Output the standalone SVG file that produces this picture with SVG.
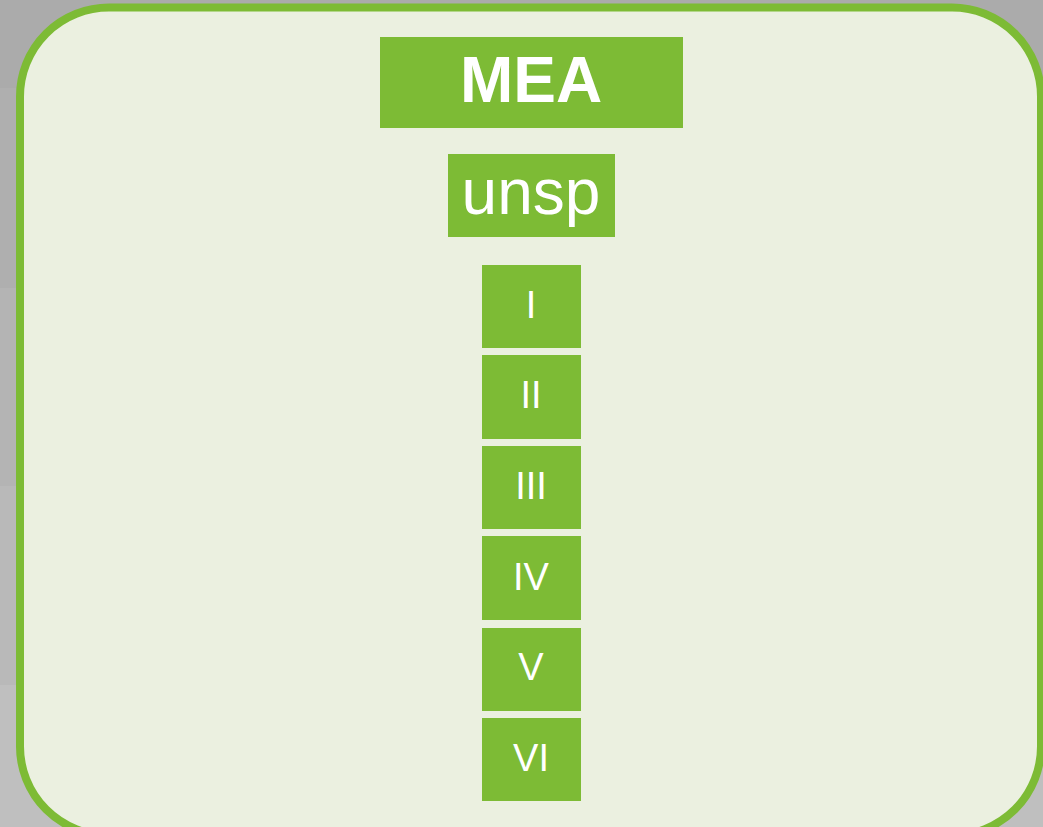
<svg xmlns="http://www.w3.org/2000/svg" width="1043" height="827" viewBox="0 0 1043 827">
<style>
.box{fill:#7dbb35}
.t{fill:#ffffff;font-family:"Liberation Sans",Arial,sans-serif;text-anchor:middle}
.num{font-size:38px}
</style>
<g id="background">
<rect x="0" y="0" width="1043" height="88" fill="#ababab"/>
<rect x="0" y="88" width="1043" height="200" fill="#afafaf"/>
<rect x="0" y="288" width="1043" height="198" fill="#b4b4b4"/>
<rect x="0" y="486" width="1043" height="199" fill="#b9b9b9"/>
<rect x="0" y="685" width="1043" height="142" fill="#bfbfbf"/>
</g>
<g id="container">
<rect x="20" y="7.5" width="1021" height="828" rx="89" ry="89" fill="#ebf0e0" stroke="#7dbb35" stroke-width="8"/>
</g>
<g id="node-mea"><rect class="box" x="380" y="37" width="303" height="91"/><text class="t" x="531" y="102" font-size="64" font-weight="bold">MEA</text></g>
<g id="node-unsp"><rect class="box" x="448" y="154" width="167" height="83"/><text class="t" x="531" y="214" font-size="64">unsp</text></g>
<g id="node-I"><rect class="box" x="482" y="265" width="99" height="83"/><text class="t num" x="531" y="318">I</text></g>
<g id="node-II"><rect class="box" x="482" y="355" width="99" height="84"/><text class="t num" x="531" y="408">II</text></g>
<g id="node-III"><rect class="box" x="482" y="446" width="99" height="83"/><text class="t num" x="531" y="499">III</text></g>
<g id="node-IV"><rect class="box" x="482" y="536" width="99" height="84"/><text class="t num" x="531" y="590">IV</text></g>
<g id="node-V"><rect class="box" x="482" y="628" width="99" height="83"/><text class="t num" x="531" y="680">V</text></g>
<g id="node-VI"><rect class="box" x="482" y="718" width="99" height="83"/><text class="t num" x="531" y="771">VI</text></g>
<g id="connectors"></g>
</svg>
